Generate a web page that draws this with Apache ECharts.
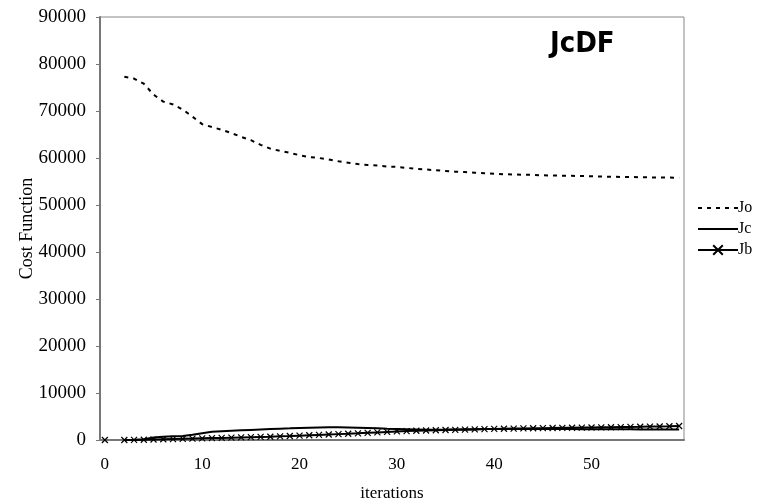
<!DOCTYPE html>
<html>
<head>
<meta charset="utf-8">
<script src="https://cdn.jsdelivr.net/npm/echarts@6/dist/echarts.min.js"></script>
<style>
  html, body { margin: 0; padding: 0; background: #fff; }
  #main { width: 764px; height: 503px; }
</style>
</head>
<body>
<div id="main"></div>
<script>
// iterations 0..59 (category axis)
var iterations = [];
for (var i = 0; i < 60; i++) iterations.push(String(i));

var yTicks = [0, 10000, 20000, 30000, 40000, 50000, 60000, 70000, 80000, 90000];

// values, index = iteration
var jo = [null, null,
  77300, 76900, 75800, 73500, 72000, 71400, 70300, 68800, 67200, 66600,
  66000, 65300, 64500, 63800, 62800, 62000, 61500, 61100, 60600, 60200,
  60000, 59700, 59300, 59000, 58700, 58500, 58400, 58200, 58100, 57900,
  57700, 57550, 57400, 57250, 57100, 57000, 56850, 56750, 56650, 56550,
  56500, 56450, 56400, 56320, 56270, 56230, 56200, 56170, 56100, 56050,
  56000, 55980, 55950, 55900, 55880, 55850, 55830, 55810];

var jc = [null, null,
  0, 50, 150, 550, 700, 780, 850, 1100, 1450, 1750,
  1850, 1950, 2050, 2150, 2250, 2350, 2420, 2480, 2550, 2620,
  2680, 2700, 2700, 2680, 2620, 2550, 2480, 2400, 2350, 2300,
  2250, 2200, 2200, 2220, 2250, 2280, 2300, 2320, 2340, 2350,
  2350, 2350, 2340, 2340, 2330, 2320, 2320, 2310, 2300, 2300,
  2290, 2280, 2270, 2260, 2250, 2240, 2230, 2220];

var jb = [0, null,
  0, 20, 50, 100, 150, 200, 250, 300, 350, 400,
  450, 500, 550, 600, 650, 700, 780, 850, 930, 1010,
  1090, 1170, 1250, 1330, 1420, 1520, 1620, 1720, 1820, 1900,
  1970, 2030, 2080, 2120, 2160, 2200, 2260, 2320, 2360, 2400,
  2430, 2460, 2490, 2520, 2550, 2580, 2610, 2640, 2660, 2690,
  2720, 2750, 2780, 2810, 2850, 2880, 2920, 2980];

var serif = "'Liberation Serif', 'DejaVu Serif', serif";
var crossMark = 'path://M0,0L10,10M10,0L0,10';
var hiddenMark = { color: 'rgba(0,0,0,0)', borderColor: 'rgba(0,0,0,0)', borderWidth: 0 };

var chart = echarts.init(document.getElementById('main'));
chart.setOption({
  animation: false,
  backgroundColor: '#fff',
  title: {
    text: 'JcDF',
    left: 545,
    top: 25,
    textStyle: {
      fontFamily: "'Liberation Sans Narrow', 'DejaVu Sans Condensed', sans-serif",
      fontWeight: 'bold',
      fontSize: 29,
      color: '#000'
    }
  },
  legend: {
    orient: 'vertical',
    left: 692,
    top: 195,
    itemWidth: 40,
    itemHeight: 12,
    itemGap: 5,
    textStyle: { fontFamily: serif, fontSize: 16, color: '#000', padding: [0, 0, 0, -5] },
    data: [
      { name: 'Jo', itemStyle: hiddenMark },
      { name: 'Jc', itemStyle: hiddenMark },
      { name: 'Jb' }
    ]
  },
  grid: {
    left: 100,
    right: 80,
    top: 17,
    bottom: 63,
    outerBoundsMode: 'none',
    show: true,
    borderColor: '#888',
    borderWidth: 1
  },
  xAxis: {
    type: 'category',
    data: iterations,
    boundaryGap: true,
    name: 'iterations',
    nameLocation: 'middle',
    nameGap: 45,
    nameTextStyle: { fontFamily: serif, fontSize: 17, color: '#000' },
    axisLine: { lineStyle: { color: '#777', width: 2 } },
    axisTick: { interval: 9, length: 4, lineStyle: { color: '#777' } },
    axisLabel: { interval: 9, fontFamily: serif, fontSize: 17, color: '#000', margin: 16 },
    splitLine: { show: false }
  },
  yAxis: {
    type: 'value',
    min: yTicks[0],
    max: yTicks[yTicks.length - 1],
    interval: 10000,
    name: 'Cost Function',
    nameLocation: 'middle',
    nameGap: 64,
    nameMoveOverlap: false,
    nameTextStyle: { fontFamily: serif, fontSize: 18, color: '#000' },
    axisLine: { show: true, lineStyle: { color: '#777', width: 2 } },
    axisTick: { show: true, length: 4, lineStyle: { color: '#777' } },
    axisLabel: {
      fontFamily: serif, fontSize: 19, color: '#000', margin: 14,
      formatter: function (v) { return String(v); }
    },
    splitLine: { show: false }
  },
  series: [
    {
      name: 'Jo',
      type: 'line',
      data: jo,
      symbol: 'none',
      connectNulls: false,
      itemStyle: { color: '#000' },
      lineStyle: { color: '#000', width: 2, type: [4, 5] }
    },
    {
      name: 'Jc',
      type: 'line',
      data: jc,
      symbol: 'none',
      connectNulls: false,
      itemStyle: { color: '#000' },
      lineStyle: { color: '#000', width: 2 }
    },
    {
      name: 'Jb',
      type: 'line',
      data: jb,
      symbol: crossMark,
      symbolSize: 6,
      showAllSymbol: true,
      connectNulls: false,
      itemStyle: { color: '#000', borderColor: '#000', borderWidth: 1.2 },
      lineStyle: { color: '#000', width: 2 }
    }
  ]
});
</script>
</body>
</html>
